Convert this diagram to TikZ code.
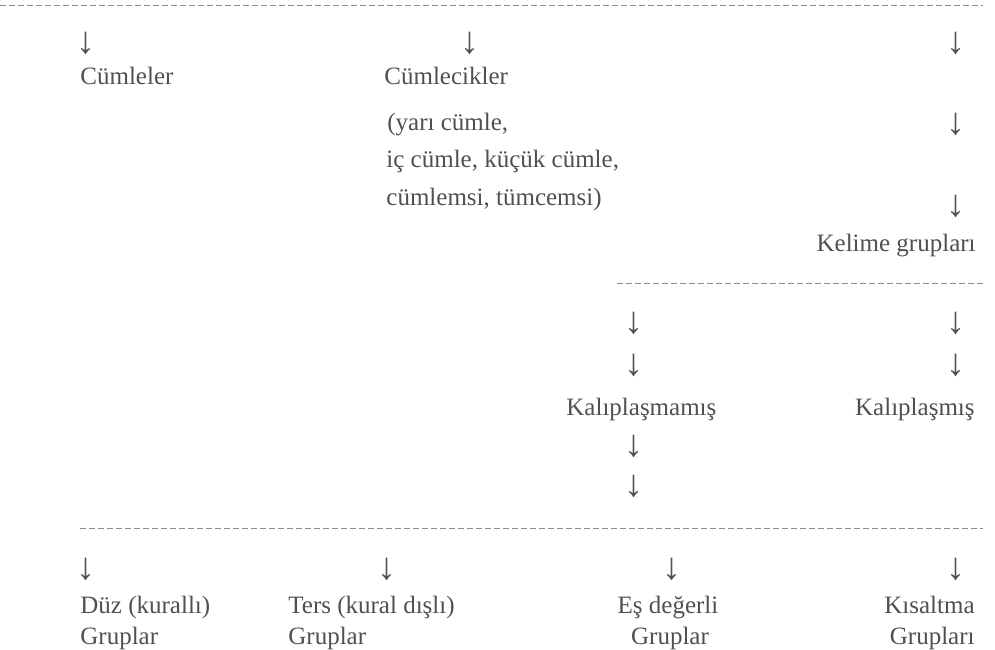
\documentclass[tikz,border=0pt]{standalone}
\usepackage{fontspec}
\setmainfont{Liberation Serif}
\usetikzlibrary{positioning}
\definecolor{ink}{HTML}{505050}
\definecolor{rulegray}{HTML}{8A8A8A}

\begin{document}
\begin{tikzpicture}[x=0.5pt,y=-0.5pt,
	lbl/.style={inner sep=0pt,text=ink,font=\fontsize{12.5}{15}\selectfont},
	arr/.style={inner sep=0pt,text=ink,font=\fontsize{19}{20}\selectfont},
	sep/.style={draw=rulegray,dash pattern=on 3pt off 1.5pt,line width=0.5pt}]
		
		\useasboundingbox (0,0) rectangle (995,649);
		
		\coordinate (T1) at (0,5);
		\coordinate (T2) at (983,5);
		\coordinate (M1) at (617,283);
		\coordinate (M2) at (983,283);
		\coordinate (B1) at (80,528);
		\coordinate (B2) at (983,528);
		
		\draw[sep] (T1)--(T2);
		\draw[sep] (M1)--(M2);
		\draw[sep] (B1)--(B2);
		
		% top row
		\node[arr] (a1) at (86,43) {↓};
		\node[arr] (a2) at (470,43) {↓};
		\node[arr] (a3) at (956,43) {↓};
		\node[arr] (a4) at (956,124) {↓};
		\node[arr] (a5) at (956,206) {↓};
		
		\node[lbl,anchor=base west] (cumle) at (80,84) {Cümleler};
		\node[lbl,anchor=base west] (cumlecik) at (384,84) {Cümlecikler};
		\node[lbl,anchor=base west] (p1) at (387,130) {(yarı cümle,};
		\node[lbl,anchor=base west] (p2) at (386,167) {iç cümle, küçük cümle,};
		\node[lbl,anchor=base west] (p3) at (386,205) {cümlemsi, tümcemsi)};
		\node[lbl,anchor=base east] (kelime) at (976,251) {Kelime grupları};
		
		% middle row
		\node[arr] (b1) at (634,323) {↓};
		\node[arr] (b2) at (634,365) {↓};
		\node[arr] (b3) at (956,323) {↓};
		\node[arr] (b4) at (956,365) {↓};
		\node[lbl,anchor=base west] (kalipsiz) at (566,415) {Kalıplaşmamış};
		\node[lbl,anchor=base east] (kalipli) at (975,415) {Kalıplaşmış};
		\node[arr] (b5) at (634,446) {↓};
		\node[arr] (b6) at (634,486) {↓};
		
		% bottom row
		\node[arr] (c1) at (86,569) {↓};
		\node[arr] (c2) at (387,569) {↓};
		\node[arr] (c3) at (672,569) {↓};
		\node[arr] (c4) at (956,569) {↓};
		\node[lbl,anchor=base west] (duz) at (80,613) {Düz (kurallı)};
		\node[lbl,anchor=base west] (duzg) at (80,644) {Gruplar};
		\node[lbl,anchor=base west] (ters) at (288,613) {Ters (kural dışlı)};
		\node[lbl,anchor=base west] (tersg) at (288,644) {Gruplar};
		\node[lbl,anchor=base] (es) at (668,613) {Eş değerli};
		\node[lbl,anchor=base] (esg) at (670,644) {Gruplar};
		\node[lbl,anchor=base east] (kisa) at (975,613) {Kısaltma};
		\node[lbl,anchor=base east] (kisag) at (975,644) {Grupları};
		
	\end{tikzpicture}
\end{document}
